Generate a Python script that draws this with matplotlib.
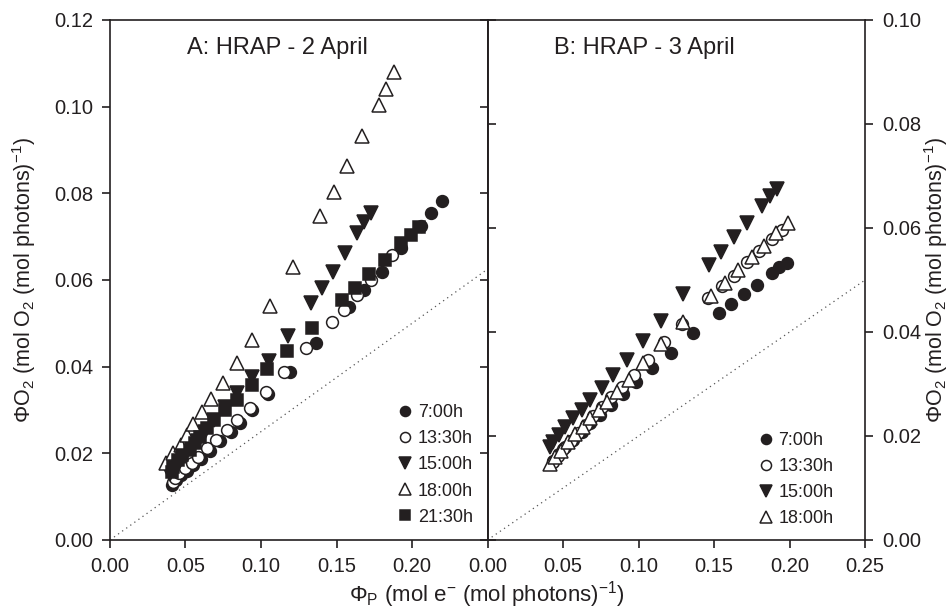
import matplotlib
matplotlib.use('Agg')
import matplotlib.pyplot as plt

plt.rcParams['font.family'] = ['Liberation Sans', 'DejaVu Sans']
plt.rcParams['mathtext.fontset'] = 'custom'
plt.rcParams['mathtext.rm'] = 'Liberation Sans'
plt.rcParams['mathtext.it'] = 'Liberation Sans:italic'

ink = '#231f20'

# ---- Panel A: HRAP - 2 April ----
a_0700_x = [0.041, 0.044, 0.047, 0.051, 0.055, 0.060, 0.066, 0.073, 0.080, 0.086, 0.094,
            0.1045, 0.119, 0.1365, 0.158, 0.168, 0.180, 0.1926, 0.2058, 0.2124, 0.2197]
a_0700_y = [0.0128, 0.0138, 0.0149, 0.0160, 0.0172, 0.0188, 0.0206, 0.0228, 0.0250, 0.0270, 0.0300,
            0.0336, 0.0388, 0.0455, 0.0538, 0.0577, 0.0619, 0.0674, 0.0725, 0.0755, 0.0782]

a_1330_x = [0.0416, 0.043, 0.046, 0.0495, 0.054, 0.058, 0.064, 0.070, 0.0772, 0.0844, 0.0924,
            0.1036, 0.1154, 0.130, 0.147, 0.155, 0.1636, 0.1728, 0.1867]
a_1330_y = [0.0134, 0.0143, 0.0155, 0.0166, 0.0178, 0.0192, 0.0212, 0.0231, 0.0254, 0.0277, 0.0305,
            0.0342, 0.0388, 0.0443, 0.0503, 0.0531, 0.0565, 0.0600, 0.0658]

a_1500_x = [0.040, 0.043, 0.046, 0.050, 0.054, 0.058, 0.063, 0.069, 0.076, 0.084, 0.094,
            0.1055, 0.118, 0.1332, 0.1405, 0.1478, 0.1557, 0.1636, 0.168, 0.1728]
a_1500_y = [0.0152, 0.0165, 0.0178, 0.0194, 0.0211, 0.0229, 0.0250, 0.0276, 0.0306, 0.0340, 0.0375,
            0.0413, 0.0470, 0.0547, 0.0582, 0.0619, 0.0662, 0.0708, 0.0734, 0.0755]

a_1800_x = [0.037, 0.042, 0.047, 0.051, 0.055, 0.061, 0.067, 0.075, 0.084, 0.094,
            0.106, 0.121, 0.139, 0.148, 0.157, 0.167, 0.178, 0.183, 0.188]
a_1800_y = [0.0178, 0.0200, 0.0219, 0.0242, 0.0268, 0.0296, 0.0325, 0.0362, 0.0408, 0.0462,
            0.0540, 0.0630, 0.0748, 0.0803, 0.0862, 0.0932, 0.1004, 0.1040, 0.1080]

a_2130_x = [0.041, 0.0416, 0.045, 0.048, 0.0528, 0.056, 0.0594, 0.064, 0.069, 0.0759, 0.0838,
            0.0943, 0.104, 0.1174, 0.134, 0.1535, 0.162, 0.1715, 0.182, 0.193, 0.199, 0.2045]
a_2130_y = [0.0157, 0.0168, 0.0185, 0.0196, 0.0208, 0.0224, 0.0238, 0.0258, 0.0277, 0.0300, 0.0323,
            0.0358, 0.0394, 0.0437, 0.0489, 0.0554, 0.0582, 0.0613, 0.0646, 0.0685, 0.0704, 0.0722]

# ---- Panel B: HRAP - 3 April ----
b_0700_x = [0.043, 0.047, 0.0515, 0.0566, 0.0626, 0.0679, 0.0745, 0.0818, 0.0897, 0.0983,
            0.109, 0.1215, 0.136, 0.1533, 0.1612, 0.170, 0.1785, 0.1884, 0.193, 0.1984]
b_0700_y = [0.0152, 0.0165, 0.0178, 0.0192, 0.0208, 0.0225, 0.0240, 0.0260, 0.0281, 0.0304,
            0.0331, 0.0360, 0.0398, 0.0437, 0.0454, 0.0473, 0.0490, 0.0513, 0.0525, 0.0533]

b_1330_x = [0.043, 0.0465, 0.050, 0.055, 0.060, 0.065, 0.070, 0.076, 0.082, 0.089, 0.097,
            0.106, 0.117, 0.1285, 0.146, 0.155, 0.163, 0.172, 0.180, 0.188, 0.195]
b_1330_y = [0.0150, 0.0162, 0.0175, 0.0190, 0.0206, 0.0222, 0.0238, 0.0256, 0.0274, 0.0294, 0.0318,
            0.0346, 0.0380, 0.0415, 0.0465, 0.0488, 0.0508, 0.0535, 0.0556, 0.0578, 0.0596]

b_1500_x = [0.0414, 0.0434, 0.0474, 0.0513, 0.0566, 0.0626, 0.0679, 0.0758, 0.0831, 0.0924,
            0.103, 0.115, 0.1295, 0.1467, 0.1546, 0.1632, 0.1719, 0.1818, 0.187, 0.1917]
b_1500_y = [0.0179, 0.0188, 0.0202, 0.0217, 0.0235, 0.0250, 0.0269, 0.0292, 0.0317, 0.0346,
            0.0383, 0.0422, 0.0473, 0.0529, 0.0554, 0.0583, 0.0610, 0.0642, 0.0662, 0.0675]

b_1800_x = [0.0415, 0.0445, 0.0485, 0.053, 0.058, 0.063, 0.068, 0.0735, 0.079, 0.086, 0.0935,
            0.103, 0.115, 0.1295, 0.148, 0.157, 0.166, 0.175, 0.183, 0.191, 0.199]
b_1800_y = [0.0147, 0.0160, 0.0172, 0.0188, 0.0203, 0.0218, 0.0234, 0.0250, 0.0266, 0.0285, 0.0308,
            0.0340, 0.0377, 0.0420, 0.0470, 0.0495, 0.0520, 0.0545, 0.0565, 0.0590, 0.0610]

# dotted reference lines (start / end points)
a_ref_x = [0.0, 0.25]
a_ref_y = [0.0, 0.0625]
b_ref_x = [0.0, 0.25]
b_ref_y = [0.0, 0.050]

a_xticks = [0.00, 0.05, 0.10, 0.15, 0.20]
a_yticks = [0.00, 0.02, 0.04, 0.06, 0.08, 0.10, 0.12]
b_xticks = [0.00, 0.05, 0.10, 0.15, 0.20, 0.25]
b_yticks = [0.00, 0.02, 0.04, 0.06, 0.08, 0.10]

ylabel = r'$\mathrm{\Phi O_2}$ (mol O$_2$ (mol photons)$^{-1}$)'
xlabel = r'$\mathrm{\Phi_P}$ (mol e$^{-}$ (mol photons)$^{-1}$)'

fig = plt.figure(figsize=(9.48, 6.16), dpi=100)
ax1 = fig.add_axes([0.116, 0.1234, 0.3983, 0.8442])
ax2 = fig.add_axes([0.5143, 0.1234, 0.3983, 0.8442])

mk = dict(linestyle='none', markeredgecolor=ink, markeredgewidth=1.1)
leg_kw = dict(loc='lower right', frameon=False, fontsize=13, markerscale=0.85,
              handlelength=0.6, handletextpad=0.4, labelspacing=0.5, labelcolor=ink)


def style_panel(ax, xticks, yticks, ylim, side):
    ax.set_xlim(0, 0.25)
    ax.set_ylim(*ylim)
    ax.set_xticks(xticks)
    ax.set_xticklabels(['%.2f' % v for v in xticks])
    ax.set_yticks(yticks)
    ax.set_yticklabels(['%.2f' % v for v in yticks])
    for sp in ax.spines.values():
        sp.set_linewidth(1.2)
        sp.set_color(ink)
    ax.tick_params(axis='both', direction='out', length=6, width=1.2, color=ink,
                   labelsize=14.5, labelcolor=ink, pad=6)
    inner = 'right' if side == 'left' else 'left'
    if side == 'right':
        ax.yaxis.tick_right()
        ax.yaxis.set_label_position('right')
    # ticks on the shared inner spine point into the panel
    sec = ax.secondary_yaxis(inner)
    sec.set_yticks(yticks)
    sec.tick_params(direction='in', length=6, width=1.2, color=ink,
                    labelleft=False, labelright=False)
    sec.spines[inner].set_linewidth(1.2)
    sec.spines[inner].set_color(ink)


# Panel A
ax1.plot(a_ref_x, a_ref_y, linestyle=(0, (1, 3)), color='#555555', linewidth=0.9)
ax1.plot(a_0700_x, a_0700_y, marker='o', markersize=8.5, markerfacecolor=ink, label='7:00h', **mk)
ax1.plot(a_1330_x, a_1330_y, marker='o', markersize=8.5, markerfacecolor='white', label='13:30h', **mk)
ax1.plot(a_1500_x, a_1500_y, marker='v', markersize=9.5, markerfacecolor=ink, label='15:00h', **mk)
ax1.plot(a_1800_x, a_1800_y, marker='^', markersize=9.5, markerfacecolor='white', label='18:00h', **mk)
ax1.plot(a_2130_x, a_2130_y, marker='s', markersize=8, markerfacecolor=ink, label='21:30h', **mk)
style_panel(ax1, a_xticks, a_yticks, (0, 0.12), 'left')
ax1.text(0.443, 0.946, 'A: HRAP - 2 April', transform=ax1.transAxes, ha='center', va='center',
         fontsize=17, color=ink)
ax1.legend(bbox_to_anchor=(1.0, 0.0), borderaxespad=0.4, **leg_kw)
ax1.set_ylabel(ylabel, fontsize=15.5, color=ink)
ax1.yaxis.set_label_coords(-0.19, 0.5)

# Panel B
ax2.plot(b_ref_x, b_ref_y, linestyle=(0, (1, 3)), color='#555555', linewidth=0.9)
ax2.plot(b_0700_x, b_0700_y, marker='o', markersize=8.5, markerfacecolor=ink, label='7:00h', **mk)
ax2.plot(b_1330_x, b_1330_y, marker='o', markersize=8.5, markerfacecolor='white', label='13:30h', **mk)
ax2.plot(b_1500_x, b_1500_y, marker='v', markersize=9.5, markerfacecolor=ink, label='15:00h', **mk)
ax2.plot(b_1800_x, b_1800_y, marker='^', markersize=9.5, markerfacecolor='white', label='18:00h', **mk)
style_panel(ax2, b_xticks, b_yticks, (0, 0.10), 'right')
ax2.text(0.414, 0.946, 'B: HRAP - 3 April', transform=ax2.transAxes, ha='center', va='center',
         fontsize=17, color=ink)
ax2.legend(bbox_to_anchor=(0.95, 0.0), borderaxespad=0.3, **leg_kw)
ax2.set_ylabel(ylabel, fontsize=15.5, color=ink)
ax2.yaxis.set_label_coords(1.15, 0.5)

fig.text(0.514, 0.035, xlabel, ha='center', va='center', fontsize=16, color=ink)

fig.savefig('out.png', dpi=100)
